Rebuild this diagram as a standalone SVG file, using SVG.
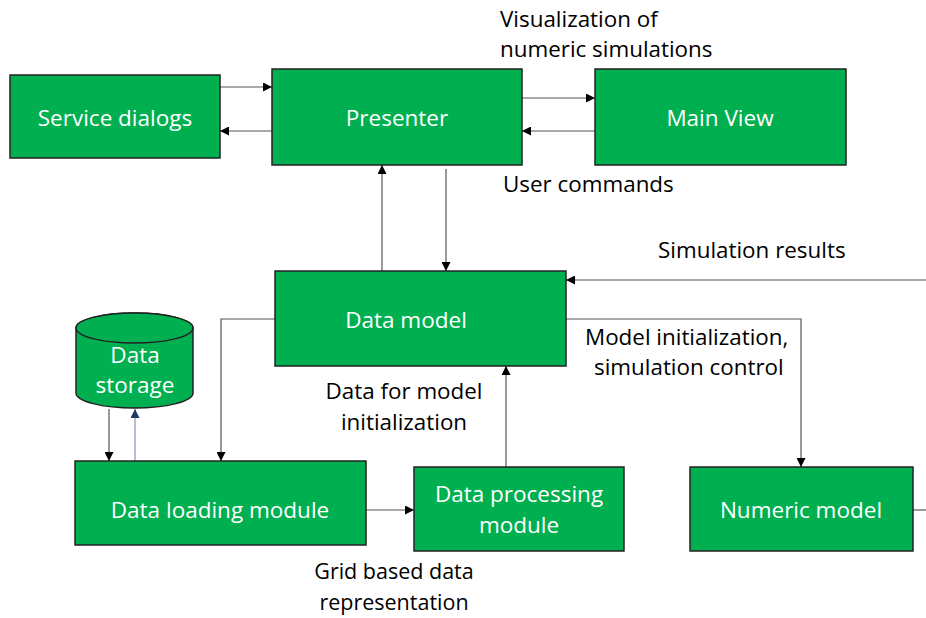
<svg xmlns="http://www.w3.org/2000/svg" width="926" height="618" viewBox="0 0 926 618">
<style>
.box{fill:#00B050;stroke:#222;stroke-width:1.5}
.nt{fill:#fff;font-family:"Open Sans","Liberation Sans",Arial,sans-serif;font-size:22.5px;text-anchor:middle;dominant-baseline:central}
.lb{fill:#000;font-family:"Open Sans","Liberation Sans",Arial,sans-serif;font-size:22.4px}
.c{fill:none;stroke:#555;stroke-width:1.2}
</style>
<defs>
<marker id="a" viewBox="0 0 10 10" refX="10" refY="5" markerWidth="9" markerHeight="9" markerUnits="userSpaceOnUse" orient="auto"><path d="M0,0 L10,5 L0,10 z" fill="#000"/></marker>
<marker id="ab" viewBox="0 0 10 10" refX="10" refY="5" markerWidth="9" markerHeight="9" markerUnits="userSpaceOnUse" orient="auto"><path d="M0,0 L10,5 L0,10 z" fill="#1F3864"/></marker>
</defs>
<rect width="926" height="618" fill="#fff"/>
<g id="connectors">
<path class="c" d="M220,87 H272" marker-end="url(#a)"/>
<path class="c" d="M272,131 H220" marker-end="url(#a)"/>
<path class="c" d="M522,98 H595" marker-end="url(#a)"/>
<path class="c" d="M595,131 H522" marker-end="url(#a)"/>
<path class="c" d="M382,271 V165" marker-end="url(#a)"/>
<path class="c" d="M446,169 V271" marker-end="url(#a)"/>
<path class="c" d="M926,280 H566" marker-end="url(#a)"/>
<path class="c" d="M566,319 H801 V467" marker-end="url(#a)"/>
<path class="c" d="M913,510 H926"/>
<path class="c" d="M275,319 H221 V461" marker-end="url(#a)"/>
<path class="c" d="M109,409 V461" marker-end="url(#a)"/>
<path fill="none" stroke="#8497B0" stroke-width="1.2" d="M135,461 V409" marker-end="url(#ab)"/>
<path class="c" d="M366,510 H414" marker-end="url(#a)"/>
<path class="c" d="M506,467 V366" marker-end="url(#a)"/>
</g>
<g id="service-dialogs"><rect class="box" x="10" y="75" width="210" height="83"/><text class="nt" x="115" y="117">Service dialogs</text></g>
<g id="presenter"><rect class="box" x="272" y="69" width="250" height="96"/><text class="nt" x="397" y="117">Presenter</text></g>
<g id="main-view"><rect class="box" x="595" y="69" width="251" height="96"/><text class="nt" x="720" y="117">Main View</text></g>
<g id="data-model"><rect class="box" x="275" y="271" width="291" height="95"/><text class="nt" x="406" y="319">Data model</text></g>
<g id="data-storage">
<path class="box" d="M76,328 V393 A58.5,15 0 0 0 193,393 V328 A58.5,15 0 0 0 76,328 z"/>
<ellipse class="box" cx="134.5" cy="328" rx="58.5" ry="15"/>
<text class="nt" x="135" y="354">Data</text><text class="nt" x="135" y="384">storage</text>
</g>
<g id="data-loading-module"><rect class="box" x="75" y="461" width="291" height="84"/><text class="nt" x="220" y="509">Data loading module</text></g>
<g id="data-processing-module"><rect class="box" x="414" y="467" width="210" height="84"/><text class="nt" x="519" y="493">Data processing</text><text class="nt" x="519" y="524">module</text></g>
<g id="numeric-model"><rect class="box" x="690" y="467" width="223" height="84"/><text class="nt" x="801" y="509">Numeric model</text></g>
<g id="labels">
<text class="lb" x="500" y="27">Visualization of</text>
<text class="lb" x="500" y="57">numeric simulations</text>
<text class="lb" x="503" y="192">User commands</text>
<text class="lb" x="658" y="258">Simulation results</text>
<text class="lb" x="585" y="345">Model initialization,</text>
<text class="lb" x="594" y="375">simulation control</text>
<text class="lb" x="404" y="399" text-anchor="middle">Data for model</text>
<text class="lb" x="404" y="430" text-anchor="middle">initialization</text>
<text class="lb" x="394" y="579" text-anchor="middle" style="font-size:21.5px">Grid based data</text>
<text class="lb" x="394" y="610" text-anchor="middle" style="font-size:21.5px">representation</text>
</g>
</svg>
